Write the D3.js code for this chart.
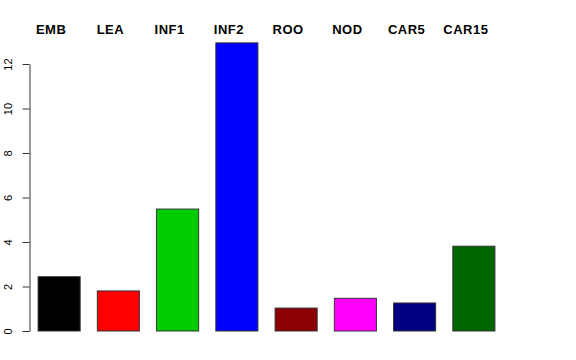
<!DOCTYPE html>
<html>
<head>
<meta charset="utf-8">
<script src="https://cdn.jsdelivr.net/npm/d3@7"></script>
<style>
  body { margin: 0; background: #fff; }
  svg { display: block; font-family: "Liberation Sans", Arial, sans-serif; }
</style>
</head>
<body>
<div id="chart"></div>
<script>
// data
var categories = ["EMB", "LEA", "INF1", "INF2", "ROO", "NOD", "CAR5", "CAR15"];
var values = [2.44, 1.8, 5.48, 12.95, 1.03, 1.47, 1.26, 3.81];
var colors = ["#000000", "#ff0000", "#00cd00", "#0000ff", "#8b0000", "#ff00ff", "#000080", "#006400"];
var yTicks = [0, 2, 4, 6, 8, 10, 12];

var width = 576, height = 360;

var svg = d3.select("#chart")
  .append("svg")
  .attr("width", width)
  .attr("height", height);

var x = d3.scaleBand()
  .domain(categories)
  .range([29.5, 503.5])
  .paddingInner(0.29)
  .paddingOuter(0.145);

var y = d3.scaleLinear()
  .domain([0, 12])
  .range([331, 64]);

// Y axis
var yAxis = svg.append("g")
  .attr("transform", "translate(29.5,0)")
  .call(d3.axisLeft(y).tickValues(yTicks).tickSize(7).tickSizeOuter(0));
yAxis.select(".domain").attr("stroke", "#333");
yAxis.selectAll(".tick line").attr("stroke", "#333");
yAxis.selectAll(".tick text")
  .attr("x", null).attr("dy", null)
  .attr("text-anchor", "middle")
  .attr("transform", "translate(-18,0) rotate(-90)")
  .attr("font-size", 11)
  .attr("font-family", "Liberation Sans, Arial, sans-serif")
  .attr("fill", "#000");

// bars
svg.selectAll("rect.bar")
  .data(categories)
  .enter()
  .append("rect")
  .attr("class", "bar")
  .attr("x", function (d) { return x(d); })
  .attr("y", function (d, i) { return y(values[i]); })
  .attr("width", x.bandwidth())
  .attr("height", function (d, i) { return y(0) - y(values[i]); })
  .attr("fill", function (d, i) { return colors[i]; })
  .attr("stroke", "#333")
  .attr("stroke-width", 1);

// category labels on top
svg.selectAll("text.lab")
  .data(categories)
  .enter()
  .append("text")
  .attr("class", "lab")
  .attr("x", function (d) { return x(d) + x.bandwidth() / 2 - 8; })
  .attr("y", 33.5)
  .attr("text-anchor", "middle")
  .attr("font-weight", "bold")
  .attr("font-size", 13)
  .attr("letter-spacing", 0.5)
  .text(function (d) { return d; });
</script>
</body>
</html>
